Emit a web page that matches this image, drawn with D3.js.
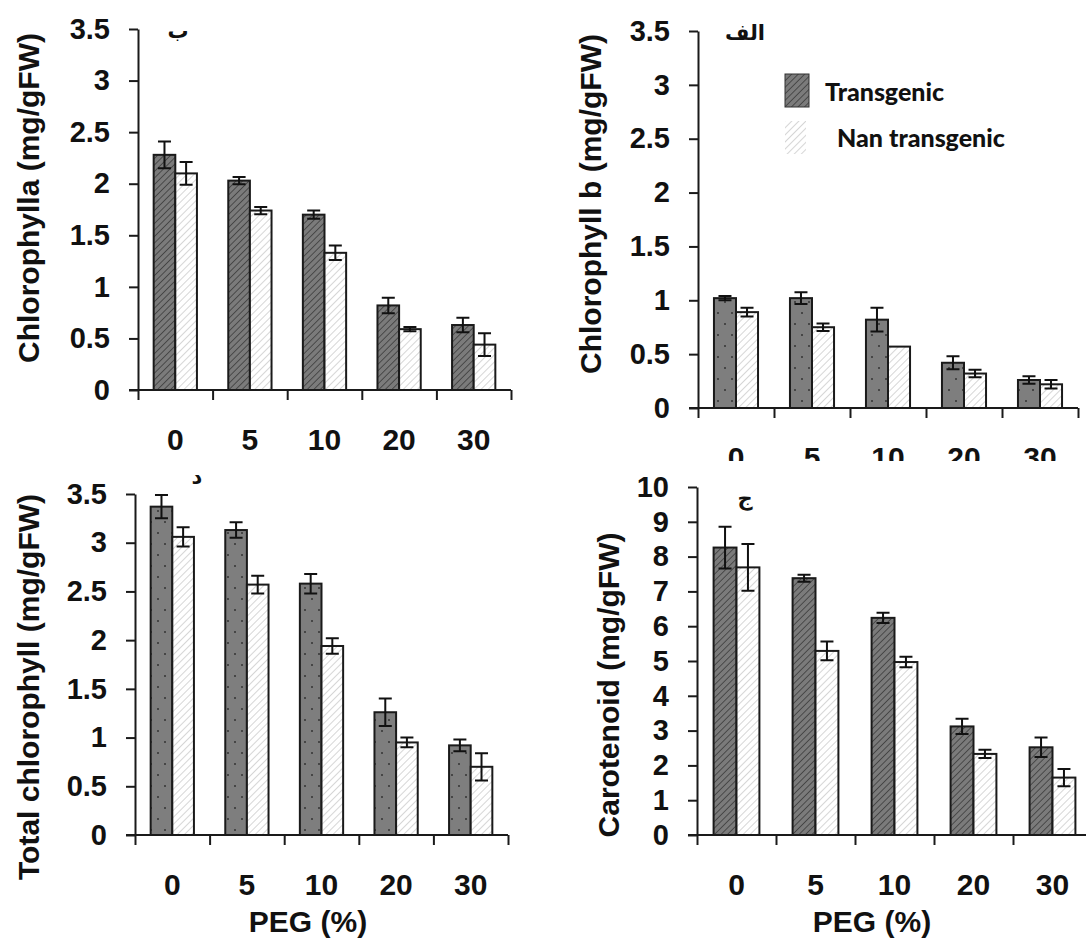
<!DOCTYPE html>
<html>
<head>
<meta charset="utf-8">
<script src="https://cdn.jsdelivr.net/npm/d3@7"></script>
<style>
  body { margin: 0; background: #fff; }
  svg { display: block; }
  .tick text { font-family: "Liberation Sans", Arial, sans-serif; font-weight: bold; fill: #111; }
</style>
</head>
<body>
<svg id="chart" width="1086" height="938"></svg>
<script>
// data
const categories = ["0", "5", "10", "20", "30"];

const chlATrans = [2.28, 2.03, 1.70, 0.82, 0.63];
const chlATransErr = [0.13, 0.035, 0.04, 0.075, 0.07];
const chlANon = [2.10, 1.74, 1.33, 0.59, 0.44];
const chlANonErr = [0.11, 0.035, 0.07, 0.02, 0.11];

const chlBTrans = [1.02, 1.02, 0.82, 0.42, 0.26];
const chlBTransErr = [0.02, 0.055, 0.11, 0.06, 0.035];
const chlBNon = [0.89, 0.75, 0.57, 0.32, 0.22];
const chlBNonErr = [0.04, 0.035, 0, 0.035, 0.04];

const totalTrans = [3.37, 3.13, 2.58, 1.26, 0.92];
const totalTransErr = [0.12, 0.08, 0.1, 0.14, 0.06];
const totalNon = [3.06, 2.57, 1.94, 0.95, 0.70];
const totalNonErr = [0.1, 0.09, 0.08, 0.05, 0.14];

const carTrans = [8.26, 7.38, 6.24, 3.12, 2.52];
const carTransErr = [0.6, 0.1, 0.15, 0.22, 0.28];
const carNon = [7.69, 5.29, 4.97, 2.33, 1.65];
const carNonErr = [0.67, 0.27, 0.15, 0.12, 0.25];

const chlTicks = [0, 0.5, 1, 1.5, 2, 2.5, 3, 3.5];
const carTicks = [0, 1, 2, 3, 4, 5, 6, 7, 8, 9, 10];

const seriesNames = ["Transgenic", "Nan transgenic"];
const xTitle = "PEG (%)";

const svg = d3.select("#chart");
const defs = svg.append("defs");

// patterns
function hatch(id, bg, line, w, gap) {
  const p = defs.append("pattern").attr("id", id)
    .attr("patternUnits", "userSpaceOnUse")
    .attr("width", gap).attr("height", gap)
    .attr("patternTransform", "rotate(45)");
  p.append("rect").attr("width", gap).attr("height", gap).attr("fill", bg);
  p.append("line").attr("x1", 0).attr("y1", 0).attr("x2", 0).attr("y2", gap)
    .attr("stroke", line).attr("stroke-width", w);
}
hatch("darkHatch", "#7b7b7b", "#2e2e2e", 1.3, 4.6);
hatch("lightHatch", "#ffffff", "#b4b4b4", 1.1, 5);

const dots = defs.append("pattern").attr("id", "dots")
  .attr("patternUnits", "userSpaceOnUse").attr("width", 14).attr("height", 22);
dots.append("rect").attr("width", 14).attr("height", 22).attr("fill", "#7e7e7e");
dots.append("circle").attr("cx", 4).attr("cy", 5).attr("r", 1).attr("fill", "#333");
dots.append("circle").attr("cx", 11).attr("cy", 16).attr("r", 1).attr("fill", "#333");

// the lower half of the top-right x labels is hidden in the original
defs.append("clipPath").attr("id", "cutLabels")
  .append("rect").attr("x", 600).attr("y", 410).attr("width", 486).attr("height", 51);

const panels = [
  { trans: chlATrans, transErr: chlATransErr, non: chlANon, nonErr: chlANonErr,
    ticks: chlTicks, yMax: 3.5, fill: "darkHatch",
    title: "Chlorophylla (mg/gFW)", letter: "ب",
    left: 138, right: 511, top: 29, bottom: 390, titleX: 28, titleY: 198,
    letterX: 178, letterY: 38, pegX: null, clip: null },
  { trans: chlBTrans, transErr: chlBTransErr, non: chlBNon, nonErr: chlBNonErr,
    ticks: chlTicks, yMax: 3.5, fill: "dots",
    title: "Chlorophyll b (mg/gFW)", letter: "الف",
    left: 698, right: 1078, top: 31, bottom: 408, titleX: 590, titleY: 204,
    letterX: 745, letterY: 40, pegX: null, clip: "cutLabels" },
  { trans: totalTrans, transErr: totalTransErr, non: totalNon, nonErr: totalNonErr,
    ticks: chlTicks, yMax: 3.5, fill: "dots",
    title: "Total chlorophyll (mg/gFW)", letter: "د",
    left: 135, right: 508, top: 494, bottom: 835, titleX: 28, titleY: 687,
    letterX: 197, letterY: 484, pegX: 308, clip: null },
  { trans: carTrans, transErr: carTransErr, non: carNon, nonErr: carNonErr,
    ticks: carTicks, yMax: 10, fill: "darkHatch",
    title: "Carotenoid (mg/gFW)", letter: "ج",
    left: 697, right: 1092, top: 487, bottom: 835, titleX: 608, titleY: 685,
    letterX: 745, letterY: 505, pegX: 872, clip: null }
];

panels.forEach(p => {
  const g = svg.append("g");
  const y = d3.scaleLinear().domain([0, p.yMax]).range([p.bottom, p.top]);
  const x = d3.scaleBand().domain(categories).range([p.left, p.right]);
  const xb = d3.scaleLinear().domain([0, categories.length]).range([p.left, p.right]);
  const bw = x.bandwidth() * 0.29;

  // bars
  const rows = categories.map((c, i) => ({ c, t: p.trans[i], te: p.transErr[i], n: p.non[i], ne: p.nonErr[i] }));
  const bars = g.append("g").attr("stroke", "#1a1a1a").attr("stroke-width", 2);
  bars.selectAll("rect.t").data(rows).join("rect").attr("class", "t")
    .attr("x", d => x(d.c) + x.bandwidth() / 2 - bw)
    .attr("width", bw)
    .attr("y", d => y(d.t)).attr("height", d => y(0) - y(d.t))
    .attr("fill", "url(#" + p.fill + ")");
  bars.selectAll("rect.n").data(rows).join("rect").attr("class", "n")
    .attr("x", d => x(d.c) + x.bandwidth() / 2)
    .attr("width", bw)
    .attr("y", d => y(d.n)).attr("height", d => y(0) - y(d.n))
    .attr("fill", "url(#lightHatch)");

  // error bars
  const errs = [];
  rows.forEach(d => {
    errs.push({ cx: x(d.c) + x.bandwidth() / 2 - bw / 2, v: d.t, e: d.te });
    errs.push({ cx: x(d.c) + x.bandwidth() / 2 + bw / 2, v: d.n, e: d.ne });
  });
  const eg = g.append("g").attr("stroke", "#111").attr("stroke-width", 2).attr("fill", "none");
  const cap = 6.5;
  eg.selectAll("path").data(errs.filter(d => d.e > 0)).join("path")
    .attr("d", d => {
      const y1 = y(d.v + d.e), y2 = y(d.v - d.e);
      return `M${d.cx},${y1}V${y2}M${d.cx - cap},${y1}H${d.cx + cap}M${d.cx - cap},${y2}H${d.cx + cap}`;
    });

  // y axis
  const ya = g.append("g").attr("transform", `translate(${p.left},0)`)
    .call(d3.axisLeft(y).tickValues(p.ticks).tickFormat(d3.format("~g")).tickSizeInner(9).tickSizeOuter(0).tickPadding(19));
  ya.selectAll("path, line").attr("stroke", "#1a1a1a").attr("stroke-width", 2);
  ya.selectAll("text").attr("font-size", 29);

  // x axis: tick marks on category boundaries
  const xa = g.append("g").attr("transform", `translate(0,${p.bottom})`)
    .call(d3.axisBottom(xb).tickValues(d3.range(categories.length + 1)).tickFormat("").tickSize(10));
  xa.selectAll("path, line").attr("stroke", "#1a1a1a").attr("stroke-width", 2);
  xa.select("path").attr("d", `M${p.left - 9},0H${p.right}`);

  // x labels centred in bands
  const xl = g.append("g").attr("transform", `translate(0,${p.bottom + 36})`)
    .call(d3.axisBottom(x).tickSize(0));
  xl.select("path").remove();
  xl.selectAll("text").attr("font-size", 30);
  if (p.clip) {
    g.append("g").attr("clip-path", `url(#${p.clip})`).node().appendChild(xl.node());
  }

  // y title
  g.append("text")
    .attr("transform", `translate(${p.titleX},${p.titleY}) rotate(-90)`)
    .attr("text-anchor", "middle").attr("dominant-baseline", "central")
    .attr("font-family", "Liberation Sans, Arial, sans-serif").attr("font-weight", "bold")
    .attr("font-size", 30).attr("fill", "#111")
    .text(p.title);

  // panel letter
  g.append("text").attr("x", p.letterX).attr("y", p.letterY)
    .attr("text-anchor", "middle")
    .attr("font-family", "DejaVu Sans, sans-serif").attr("font-weight", "bold")
    .attr("font-size", 21).attr("fill", "#111")
    .text(p.letter);

  if (p.pegX) {
    g.append("text").attr("x", p.pegX).attr("y", p.bottom + 97)
      .attr("text-anchor", "middle")
      .attr("font-family", "Liberation Sans, Arial, sans-serif").attr("font-weight", "bold")
      .attr("font-size", 30).attr("fill", "#111")
      .text(xTitle);
  }
});

// legend (inside the chlorophyll b panel)
const lg = svg.append("g").attr("font-family", "Lato, sans-serif").attr("font-weight", "900")
  .attr("font-size", 25).attr("fill", "#111");
const legendFills = ["darkHatch", "lightHatch"];
seriesNames.forEach((s, i) => {
  lg.append("rect").attr("x", 785).attr("y", 74 + i * 47).attr("width", i ? 21 : 24).attr("height", 33)
    .attr("fill", "url(#" + legendFills[i] + ")")
    .attr("stroke", i ? "none" : "#333").attr("stroke-width", 1);
  lg.append("text").attr("x", i ? 837 : 825).attr("y", 91 + i * 46)
    .attr("dominant-baseline", "central").text(s);
});
</script>
</body>
</html>
